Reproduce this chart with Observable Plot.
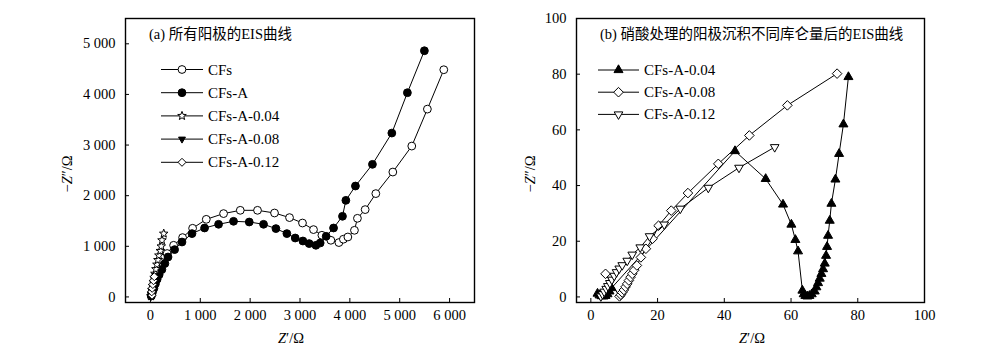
<!DOCTYPE html>
<html><head><meta charset="utf-8">
<script src="https://cdn.jsdelivr.net/npm/d3@7"></script>
<script src="https://cdn.jsdelivr.net/npm/@observablehq/plot@0.6"></script>
<style>
body{margin:0;background:#fff;}
#wrap{position:relative;width:993px;height:355px;overflow:hidden;background:#fff;}
#wrap svg{position:absolute;top:0;}
</style></head><body><div id="wrap"></div>
<script>
// ---------- Panel (a): all anodes ----------
const aTitle = "(a) 所有阳极的EIS曲线";
const aNames = ["CFs", "CFs-A", "CFs-A-0.04", "CFs-A-0.08", "CFs-A-0.12"];
const cfsX = [20, 40, 70, 110, 160, 230, 335, 465, 645, 846, 1120, 1467, 1802, 2148, 2489, 2790, 3050, 3271, 3439, 3619, 3780, 3870, 3960, 4092, 4152, 4307, 4521, 4862, 5242, 5555, 5884];
const cfsY = [20, 120, 240, 380, 520, 680, 857, 1020, 1172, 1356, 1533, 1646, 1711, 1711, 1658, 1567, 1460, 1330, 1218, 1119, 1074, 1140, 1184, 1316, 1553, 1725, 2041, 2467, 2980, 3710, 4488];
const cfsAX = [15, 40, 70, 100, 135, 175, 230, 290, 353, 485, 633, 834, 1086, 1367, 1667, 1982, 2269, 2517, 2737, 2904, 3058, 3184, 3319, 3405, 3525, 3673, 3852, 3920, 4112, 4453, 4842, 5154, 5495];
const cfsAY = [20, 90, 170, 260, 350, 440, 540, 660, 789, 935, 1085, 1251, 1362, 1435, 1494, 1480, 1435, 1350, 1251, 1164, 1105, 1054, 1020, 1066, 1198, 1362, 1593, 1908, 2191, 2619, 3237, 4034, 4863];
const a004X = [10, 20, 30, 45, 60, 75, 90, 110, 130, 150, 170, 198, 218, 232, 267];
const a004Y = [15, 70, 140, 220, 300, 380, 460, 550, 640, 730, 820, 910, 1000, 1120, 1251];
const a008X = [5, 15, 28, 42, 58, 75, 95];
const a008Y = [10, 50, 110, 180, 260, 340, 420];
const a012X = [32, 25, 35, 48, 62, 78];
const a012Y = [33, 100, 170, 245, 320, 400];
const aXTicks = [0, 1000, 2000, 3000, 4000, 5000, 6000];
const aYTicks = [0, 1000, 2000, 3000, 4000, 5000];

// ---------- Panel (b): nitric-acid treated anodes ----------
const bTitle = "(b) 硝酸处理的阳极沉积不同库仑量后的EIS曲线";
const bNames = ["CFs-A-0.04", "CFs-A-0.08", "CFs-A-0.12"];
const b004X = [2.0, 2.6, 3.2, 3.8, 4.4, 5.0, 5.6, 6.2, 43.2, 52.4, 57.6, 60.1, 61.3, 62.1, 63.4, 63.8, 64.3, 64.9, 65.5, 66.2, 67.1, 67.6, 68.1, 68.6, 69.1, 69.6, 70.1, 70.5, 70.8, 71.1, 71.6, 72.1, 73.3, 74.4, 75.7, 77.2];
const b004Y = [1.2, 0.6, 0.3, 0.2, 0.4, 1.0, 2.0, 3.2, 52.4, 42.4, 33.2, 26.0, 20.5, 16.4, 2.3, 1.0, 0.4, 0.2, 0.4, 1.0, 2.0, 3.5, 5.0, 6.6, 8.3, 10.0, 12.0, 14.8, 18.0, 22.0, 27.4, 33.5, 42.2, 51.4, 62.0, 79.0];
const b008X = [4.4, 8.6, 9.0, 9.4, 9.9, 10.4, 10.9, 11.4, 11.9, 12.4, 13.0, 13.8, 15.0, 16.5, 18.5, 20.3, 24.1, 29.1, 38.2, 47.5, 58.9, 73.8];
const b008Y = [8.3, 0.2, 0.8, 1.6, 2.5, 3.6, 4.7, 5.9, 7.1, 8.3, 9.6, 11.3, 14.2, 17.3, 20.9, 25.6, 31.0, 37.3, 47.8, 58.0, 68.8, 80.2];
const b012X = [3.0, 3.5, 4.0, 4.6, 5.1, 5.7, 6.3, 7.0, 7.7, 8.5, 9.4, 10.9, 12.4, 14.8, 17.6, 22.0, 26.8, 35.2, 44.4, 55.1];
const b012Y = [0.2, 1.0, 1.9, 2.9, 3.9, 5.0, 6.2, 7.6, 8.9, 10.2, 11.4, 13.0, 15.2, 17.8, 21.8, 26.0, 31.7, 39.2, 46.4, 53.8];
const bXTicks = [0, 20, 40, 60, 80, 100];
const bYTicks = [0, 20, 40, 60, 80, 100];

// ---------- symbols ----------
function rad(size){ return Math.sqrt(size / Math.PI); }
const symTriUp = {draw(c, size){ const r = rad(size), h = r*Math.sqrt(3)/2; c.moveTo(0,-r); c.lineTo(h,r/2); c.lineTo(-h,r/2); c.closePath(); }};
const symTriDown = {draw(c, size){ const r = rad(size), h = r*Math.sqrt(3)/2; c.moveTo(0,r); c.lineTo(h,-r/2); c.lineTo(-h,-r/2); c.closePath(); }};
const symDiamond = {draw(c, size){ const r = rad(size); c.moveTo(0,-r); c.lineTo(r,0); c.lineTo(0,r); c.lineTo(-r,0); c.closePath(); }};
const symCircle = {draw(c, size){ const r = rad(size); c.moveTo(r,0); c.arc(0,0,r,0,2*Math.PI); c.closePath(); }};
const symStar = {draw(c, size){ const R = rad(size)*1.25, ri = R*0.42; for (let i=0;i<10;i++){ const a = -Math.PI/2 + i*Math.PI/5, rr = i%2? ri : R; const px = rr*Math.cos(a), py = rr*Math.sin(a); if(i===0) c.moveTo(px,py); else c.lineTo(px,py);} c.closePath(); }};

const seriesA = [
  {name: aNames[0], x: cfsX, y: cfsY, sym: symCircle, fill: "white", r: 3.9},
  {name: aNames[1], x: cfsAX, y: cfsAY, sym: symCircle, fill: "black", r: 3.9},
  {name: aNames[2], x: a004X, y: a004Y, sym: symStar, fill: "white", r: 3.6},
  {name: aNames[3], x: a008X, y: a008Y, sym: symTriDown, fill: "black", r: 4},
  {name: aNames[4], x: a012X, y: a012Y, sym: symDiamond, fill: "white", r: 4}
];
const seriesB = [
  {name: bNames[0], x: b004X, y: b004Y, sym: symTriUp, fill: "black", r: 5.2},
  {name: bNames[1], x: b008X, y: b008Y, sym: symDiamond, fill: "white", r: 4.8},
  {name: bNames[2], x: b012X, y: b012Y, sym: symTriDown, fill: "white", r: 5}
];

const FONT = "'Liberation Serif','Times New Roman','Noto Sans CJK SC',serif";
const fmtA = d => d === 0 ? "0" : d3.format(",")(d).replace(/,/g, " ");

function panel(o){
  const marks = [];
  const tables = o.series.map(s => s.x.map((x,i) => ({x, y: s.y[i]})));
  o.series.forEach((s,k) => {
    marks.push(Plot.line(tables[k], {x:"x", y:"y", stroke:"black", strokeWidth:1}));
    marks.push(Plot.dot(tables[k], {x:"x", y:"y", symbol: s.sym, r: s.r, fill: s.fill, stroke:"black", strokeWidth:1}));
  });
  marks.push(Plot.frame({stroke:"black", strokeWidth:1.4}));
  marks.push(Plot.axisX({ticks: o.xTicks, tickFormat: o.fmt, tickSize: -4, tickPadding: 11, label: null, fontSize: 14.5}));
  marks.push(Plot.axisY({ticks: o.yTicks, tickFormat: o.fmt, tickSize: -4, tickPadding: 14, label: null, fontSize: 14.5}));
  const svg = Plot.plot({
    width: o.width, height: 355,
    marginLeft: o.ml, marginRight: o.mr, marginTop: 18, marginBottom: 53,
    x: {domain: o.xDomain}, y: {domain: o.yDomain},
    style: {fontFamily: FONT, fontSize: "14.5px", color: "black", background: "white"},
    marks
  });
  svg.style.left = o.left + "px";
  const g = d3.select(svg).append("g").attr("font-family", FONT).attr("fill", "black").attr("text-anchor", "start");
  // title
  g.append("text").attr("x", o.titleX).attr("y", 39).attr("font-size", o.titleSize).text(o.title);
  // legend
  o.series.forEach((s,i) => {
    const y = o.legY + i*o.legStep;
    g.append("line").attr("x1", o.legX0).attr("x2", o.legX1).attr("y1", y).attr("y2", y).attr("stroke","black").attr("stroke-width",1);
    g.append("path").attr("transform", `translate(${(o.legX0+o.legX1)/2},${y})`)
      .attr("d", d3.symbol().type(s.sym).size(Math.PI*s.r*s.r)()).attr("fill", s.fill).attr("stroke","black");
    g.append("text").attr("x", o.legX1 + 5).attr("y", y + 5).attr("font-size", 15).text(s.name);
  });
  // axis labels
  const xl = g.append("text").attr("x", o.xLabX).attr("y", 343).attr("text-anchor","middle").attr("font-size", 14.5);
  xl.append("tspan").attr("font-style","italic").text("Z");
  xl.append("tspan").text("′/Ω");
  const yl = g.append("text").attr("transform", `translate(${o.yLabX},174) rotate(-90)`).attr("text-anchor","middle").attr("font-size", 14.5);
  yl.append("tspan").text("−");
  yl.append("tspan").attr("font-style","italic").text("Z");
  yl.append("tspan").text("″/Ω");
  document.getElementById("wrap").appendChild(svg);
}

panel({series: seriesA, width: 496, left: 0, ml: 125, mr: 22,
  xDomain: [-500, 6500], yDomain: [-110, 5500], xTicks: aXTicks, yTicks: aYTicks, fmt: fmtA,
  title: aTitle, titleX: 149, titleSize: 14.5,
  legX0: 161, legX1: 203, legY: 69.5, legStep: 23.2, xLabX: 291, yLabX: 72});

panel({series: seriesB, width: 497, left: 496, ml: 80, mr: 69,
  xDomain: [-4.3, 100], yDomain: [-2, 100], xTicks: bXTicks, yTicks: bYTicks, fmt: d => String(d),
  title: bTitle, titleX: 104, titleSize: 14.5,
  legX0: 102, legX1: 143, legY: 70, legStep: 22.2, xLabX: 256, yLabX: 39});
</script></body></html>
